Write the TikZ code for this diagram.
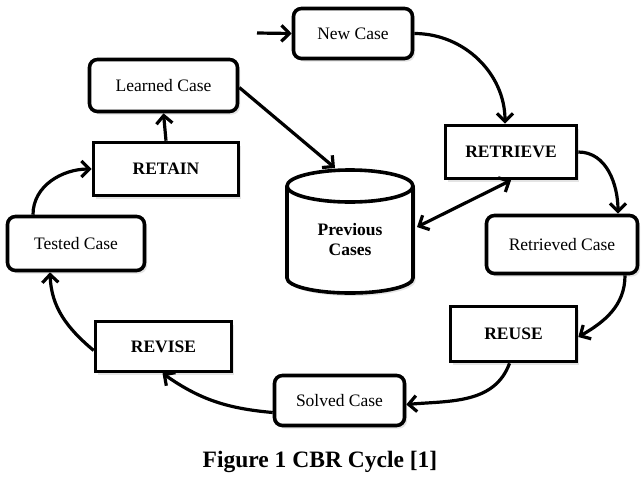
\documentclass[tikz,border=0pt]{standalone}
\usepackage{fontspec}
\setmainfont{Liberation Serif}
\usetikzlibrary{arrows.meta,shadows,calc}
\begin{document}
\begin{tikzpicture}[x=1pt,y=1pt,
  every node/.style={font=\fontsize{17.5}{20}\selectfont},
  shade/.style={drop shadow={shadow xshift=2.5pt,shadow yshift=-3pt,fill=black!30,opacity=0.35}},
  casebox/.style={draw,line width=3.6pt,rounded corners=8pt,fill=white,shade,align=center,inner sep=0pt},
  stepbox/.style={draw,line width=3.6pt,fill=white,shade,align=center,inner sep=0pt,font=\fontsize{17.5}{20}\selectfont\bfseries},
  tipst/.style={},
  conn/.style={line width=3.2pt,-{Straight Barb[length=8pt,width=16pt,line width=3.2pt]}},
  dconn/.style={line width=3.2pt,{Straight Barb[length=8pt,width=16pt,line width=3.2pt]}-{Straight Barb[length=8pt,width=16pt,line width=3.2pt]}}
]
\useasboundingbox[fill=white] (0,0) rectangle (643,-496);

% nodes
\node[casebox,minimum width=119pt,minimum height=50pt] (nc) at (353,-33.5) {New Case};
\node[casebox,minimum width=148pt,minimum height=52pt] (lc) at (163.5,-85.5) {Learned Case};
\node[stepbox,minimum width=145pt,minimum height=53pt] (ret) at (166,-169) {RETAIN};
\node[stepbox,minimum width=131pt,minimum height=53pt] (rtv) at (511,-152) {RETRIEVE};
\node[casebox,minimum width=151pt,minimum height=58pt] (rc) at (562,-244.5) {Retrieved Case};
\node[casebox,minimum width=137pt,minimum height=54pt] (tc) at (76,-243.5) {Tested Case};
\node[stepbox,minimum width=136pt,minimum height=50pt] (rev) at (163.5,-346.5) {REVISE};
\node[stepbox,minimum width=126pt,minimum height=55pt] (reu) at (513.5,-334) {REUSE};
\node[casebox,minimum width=130pt,minimum height=50pt] (sc) at (339.5,-400.5) {Solved Case};

% cylinder (Previous Cases)
\fill[black!30,opacity=0.35] (289.5,-189) -- (289.5,-281) arc (180:360:63 and 15) -- (415.5,-189) arc (0:180:63 and 16) -- cycle;
\draw[line width=3.6pt,fill=white] (287,-186) -- (287,-278) arc (180:360:63 and 15) -- (413,-186) arc (0:180:63 and 16) -- cycle;
\draw[line width=3.6pt] (287,-186) arc (180:360:63 and 16);
\node[font=\fontsize{17.5}{20}\selectfont\bfseries,align=center] (db) at (350,-240) {Previous\\Cases};
\coordinate (dbtop) at (335,-168);
\coordinate (dbright) at (417,-227);
\coordinate (start) at (257,-33);

% connectors
\draw[conn] (start) -- (nc.west);
\draw[conn] (nc.east) to[out=0,in=90] ([xshift=-6pt]rtv.north);
\draw[conn] (rtv.east) to[out=0,in=90] ([xshift=56pt]rc.north);
\draw[conn] ([xshift=63pt]rc.south) to[out=-90,in=30] ([yshift=-3pt]reu.east);
\draw[conn] ([xshift=-4pt]reu.south) to[out=-110,in=5] ([yshift=-4pt]sc.east);
\draw[conn] ([yshift=-12pt]sc.west) to[out=175,in=-35] ([xshift=-1pt]rev.south);
\draw[conn] ([yshift=-4pt]rev.west) to[out=140,in=-88] ([xshift=-26pt]tc.south);
\draw[conn] ([xshift=-43pt]tc.north) to[out=90,in=180] (ret.west);
\draw[conn] (ret.north) -- (lc.south);
\draw[conn] ([yshift=-2pt]lc.east) -- (dbtop);
\draw[dconn] (dbright) -- (rtv.south);

% caption
\node[font=\fontsize{23.5}{26}\selectfont\bfseries] (cap) at (320,-462) {Figure 1 CBR Cycle [1]};
\end{tikzpicture}
\end{document}
